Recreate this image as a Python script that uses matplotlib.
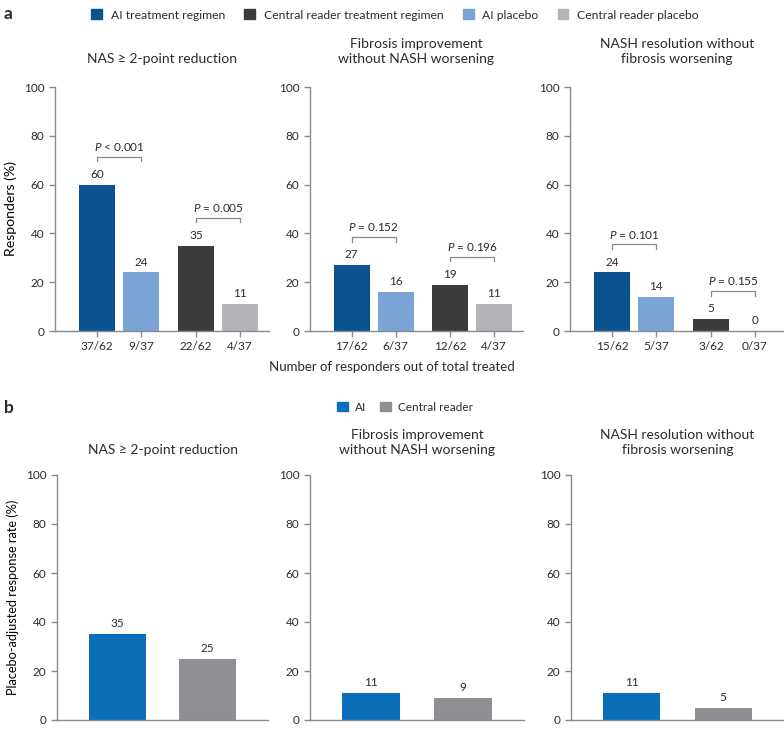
import numpy as np
import matplotlib
matplotlib.use('Agg')
import matplotlib.pyplot as plt
from matplotlib.patches import Patch

plt.rcParams['font.family'] = ['Lato', 'DejaVu Sans']
plt.rcParams['mathtext.fontset'] = 'custom'
plt.rcParams['mathtext.it'] = 'Lato:italic'
plt.rcParams['mathtext.rm'] = 'Lato'
plt.rcParams['text.color'] = '#2b2b2b'

# ---- data ----
titles = ['NAS \u2265 2-point reduction',
          'Fibrosis improvement\nwithout NASH worsening',
          'NASH resolution without\nfibrosis worsening']
ai_trt = [60, 27, 24]
ai_pbo = [24, 16, 14]
cr_trt = [35, 19, 5]
cr_pbo = [11, 11, 0]
count_labels = [['37/62', '9/37', '22/62', '4/37'],
                ['17/62', '6/37', '12/62', '4/37'],
                ['15/62', '5/37', '3/62', '0/37']]
pvals = [['< 0.001', '= 0.005'],
         ['= 0.152', '= 0.196'],
         ['= 0.101', '= 0.155']]
ai_adj = [35, 11, 11]
cr_adj = [25, 9, 5]

legend_a = ['AI treatment regimen', 'Central reader treatment regimen',
            'AI placebo', 'Central reader placebo']
legend_b = ['AI', 'Central reader']

c_ai_trt, c_cr_trt, c_ai_pbo, c_cr_pbo = '#0b5291', '#3b3b3b', '#7aa3d6', '#b3b4b7'
c_ai_b, c_cr_b = '#0a6fb8', '#8e8f92'
axcol = '#8a8a8a'

W, H = 784, 729
fig = plt.figure(figsize=(W / 100, H / 100), dpi=100)


def style(ax):
    for s in ['top', 'right']:
        ax.spines[s].set_visible(False)
    for s in ['left', 'bottom']:
        ax.spines[s].set_color(axcol)
        ax.spines[s].set_linewidth(1.0)
    ax.tick_params(colors=axcol, labelcolor='#2b2b2b', labelsize=8.5,
                   length=4, width=1.0)
    ax.set_ylim(0, 100)
    ax.set_yticks(np.arange(0, 101, 20))


# ---- panel a ----
xa = np.array([0, 1, 2.25, 3.25])
lefts_a = [55, 310, 570]
widths_a = [214, 213, 214]
axes_a = []
for i in range(3):
    ax = fig.add_axes([lefts_a[i] / W, 1 - 331 / H, widths_a[i] / W, 244 / H])
    style(ax)
    vals = [ai_trt[i], ai_pbo[i], cr_trt[i], cr_pbo[i]]
    cols = [c_ai_trt, c_ai_pbo, c_cr_trt, c_cr_pbo]
    ax.bar(xa, vals, width=0.82, color=cols)
    for x, v in zip(xa, vals):
        ax.text(x, v + 2, str(v), ha='center', va='bottom', fontsize=8.5)
    ax.set_xticks(xa)
    ax.set_xticklabels(count_labels[i])
    ax.set_xlim(-0.955, 3.91)
    # p-value brackets
    for g, (a, b) in enumerate([(0, 1), (2, 3)]):
        top = max(vals[a], vals[b]) + 11.5
        ax.plot([xa[a], xa[a], xa[b], xa[b]], [top - 2, top, top, top - 2],
                color=axcol, lw=0.9, clip_on=False)
        ax.text((xa[a] + xa[b]) / 2, top + 1.5, r'$\it{P}$ ' + pvals[i][g],
                ha='center', va='bottom', fontsize=8.5)
    ax.set_title(titles[i], fontsize=10, pad=17, linespacing=1.35)
    axes_a.append(ax)
axes_a[0].set_ylabel('Responders (%)', fontsize=10.2, labelpad=5)
fig.text(392 / W, 1 - 367 / H, 'Number of responders out of total treated',
         ha='center', va='center', fontsize=9.5)

fig.legend(handles=[Patch(color=c) for c in [c_ai_trt, c_cr_trt, c_ai_pbo, c_cr_pbo]],
           labels=legend_a, loc='center', bbox_to_anchor=(395 / W, 1 - 15 / H),
           ncol=4, frameon=False, fontsize=8.7, handlelength=0.9, handleheight=0.9,
           handletextpad=0.7, columnspacing=1.6)

# ---- panel b ----
xb = np.array([0, 1])
lefts_b = [57, 310, 571]
widths_b = [211, 214, 213]
for i in range(3):
    ax = fig.add_axes([lefts_b[i] / W, 1 - 720 / H, widths_b[i] / W, 245 / H])
    style(ax)
    vals = [ai_adj[i], cr_adj[i]]
    ax.bar(xb, vals, width=0.626, color=[c_ai_b, c_cr_b])
    for x, v in zip(xb, vals):
        ax.text(x, v + 2, str(v), ha='center', va='bottom', fontsize=8.5)
    ax.set_xticks([])
    ax.set_xlim(-0.665, 1.665)
    ax.set_title(titles[i], fontsize=10, pad=15, linespacing=1.3)
    if i == 0:
        ax.set_ylabel('Placebo-adjusted response rate (%)', fontsize=9.2, labelpad=5)

fig.legend(handles=[Patch(color=c) for c in [c_ai_b, c_cr_b]],
           labels=legend_b, loc='center', bbox_to_anchor=(405 / W, 1 - 407 / H),
           ncol=2, frameon=False, fontsize=8.5, handlelength=0.9, handleheight=0.9,
           handletextpad=0.6, columnspacing=1.2)

fig.text(4 / W, 1 - 14 / H, 'a', fontsize=12.5, fontweight='bold', va='center')
fig.text(4 / W, 1 - 408 / H, 'b', fontsize=12.5, fontweight='bold', va='center')

fig.savefig('out.png', dpi=100)
